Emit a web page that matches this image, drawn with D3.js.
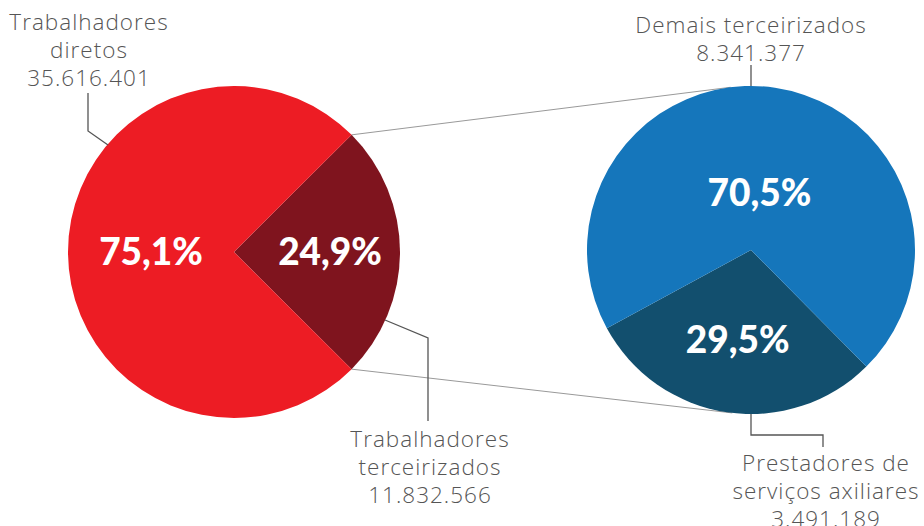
<!DOCTYPE html>
<html>
<head>
<meta charset="utf-8">
<script src="https://cdn.jsdelivr.net/npm/d3@7"></script>
<style>
  body { margin: 0; background: #fff; }
  svg text { font-family: "Lato", "Noto Sans", sans-serif; }
  .lbl { fill: #555; font-family: "Open Sans", "Noto Sans", sans-serif; font-size: 22.5px; font-weight: 300; letter-spacing: 1px; }
  .pct { fill: #fff; font-size: 37px; font-weight: 900; }
</style>
</head>
<body>
<div id="chart"></div>
<script>
// data
const mainCategories = ["Trabalhadores terceirizados", "Trabalhadores diretos"];
const mainValues = [11832566, 35616401];
const mainPct = ["24,9%", "75,1%"];

const subCategories = ["Prestadores de serviços axiliares", "Demais terceirizados"];
const subValues = [3491189, 8341377];
const subPct = ["29,5%", "70,5%"];

const width = 924, height = 526;

const svg = d3.select("#chart").append("svg")
    .attr("width", width)
    .attr("height", height);

// pie positions
const left = {cx: 234, cy: 252, r: 166};
const right = {cx: 751, cy: 250, r: 164};

const leftColors = ["#7f141e", "#ed1c24"];
const rightColors = ["#124f6e", "#1576bb"];

// dark slice centered on 3 o'clock
const leftPie = d3.pie().sort(null).value(d => d)
    .startAngle(Math.PI / 2 - Math.PI * mainValues[0] / d3.sum(mainValues))
    .endAngle(Math.PI / 2 - Math.PI * mainValues[0] / d3.sum(mainValues) + 2 * Math.PI);

// dark slice at bottom, slightly to the left
const rightStart = 135.3 * Math.PI / 180;
const rightPie = d3.pie().sort(null).value(d => d)
    .startAngle(rightStart)
    .endAngle(rightStart + 2 * Math.PI);

const leftArcs = leftPie(mainValues);
const rightArcs = rightPie(subValues);

// connector lines (tangent from dark slice corners to the right pie)
function tangentPoint(px, py, c, upper) {
    let dx = c.cx - px, dy = c.cy - py;
    let d = Math.sqrt(dx * dx + dy * dy);
    let base = Math.atan2(dy, dx);
    let off = Math.asin(c.r / d);
    let ang = upper ? base - off : base + off;
    let len = Math.sqrt(d * d - c.r * c.r);
    return [px + len * Math.cos(ang), py + len * Math.sin(ang)];
}
function arcPoint(c, a) {
    return [c.cx + c.r * Math.sin(a), c.cy - c.r * Math.cos(a)];
}
const pTop = arcPoint(left, leftArcs[0].startAngle);
const pBot = arcPoint(left, leftArcs[0].endAngle);
const tTop = tangentPoint(pTop[0], pTop[1], right, true);
const tBot = tangentPoint(pBot[0], pBot[1], right, false);

svg.append("line")
    .attr("x1", pTop[0]).attr("y1", pTop[1])
    .attr("x2", tTop[0]).attr("y2", tTop[1])
    .attr("stroke", "#999").attr("stroke-width", 1);
svg.append("line")
    .attr("x1", pBot[0]).attr("y1", pBot[1])
    .attr("x2", tBot[0]).attr("y2", tBot[1])
    .attr("stroke", "#999").attr("stroke-width", 1);

// draw pies
function drawPie(c, arcs, colors, pct, labelRadii) {
    let g = svg.append("g").attr("transform", `translate(${c.cx},${c.cy})`);
    let arc = d3.arc().innerRadius(0).outerRadius(c.r);
    g.selectAll("path")
        .data(arcs)
        .enter()
        .append("path")
        .attr("d", arc)
        .attr("fill", (d, i) => colors[i]);
    g.selectAll(".pct")
        .data(arcs)
        .enter()
        .append("text")
        .attr("class", "pct")
        .attr("text-anchor", "middle")
        .attr("dy", "0.36em")
        .attr("transform", (d, i) => {
            let la = d3.arc().innerRadius(labelRadii[i]).outerRadius(labelRadii[i]);
            return `translate(${la.centroid(d)})`;
        })
        .text((d, i) => pct[i]);
}

drawPie(left, leftArcs, leftColors, mainPct, [96, 83]);
drawPie(right, rightArcs, rightColors, subPct, [91, 58]);

// leader lines
const leader = svg.append("g")
    .attr("fill", "none")
    .attr("stroke", "#555")
    .attr("stroke-width", 1.3);

leader.append("path").attr("d", d3.line()([[88, 93], [88, 131], [108, 145]]));
leader.append("path").attr("d", d3.line()([[385, 320], [428, 338], [428, 421]]));
leader.append("path").attr("d", d3.line()([[751, 65], [751, right.cy - right.r]]));
leader.append("path").attr("d", d3.line()([[751, right.cy + right.r], [751, 435], [823, 435], [823, 447]]));

// category labels
function addLabel(x, y, lines) {
    let t = svg.append("text")
        .attr("class", "lbl")
        .attr("text-anchor", "middle")
        .attr("x", x).attr("y", y);
    lines.forEach((l, i) => {
        t.append("tspan").attr("x", x).attr("dy", i === 0 ? 0 : 28).text(l);
    });
}
const fmt = d3.formatLocale({decimal: ",", thousands: ".", grouping: [3], currency: ["", ""]}).format(",d");

addLabel(89, 30, ["Trabalhadores", "diretos", fmt(mainValues[1])]);
addLabel(430, 447, ["Trabalhadores", "terceirizados", fmt(mainValues[0])]);
addLabel(751, 33, ["Demais terceirizados", fmt(subValues[1])]);
addLabel(826, 471, ["Prestadores de", "serviços axiliares", fmt(subValues[0])]);
</script>
</body>
</html>
